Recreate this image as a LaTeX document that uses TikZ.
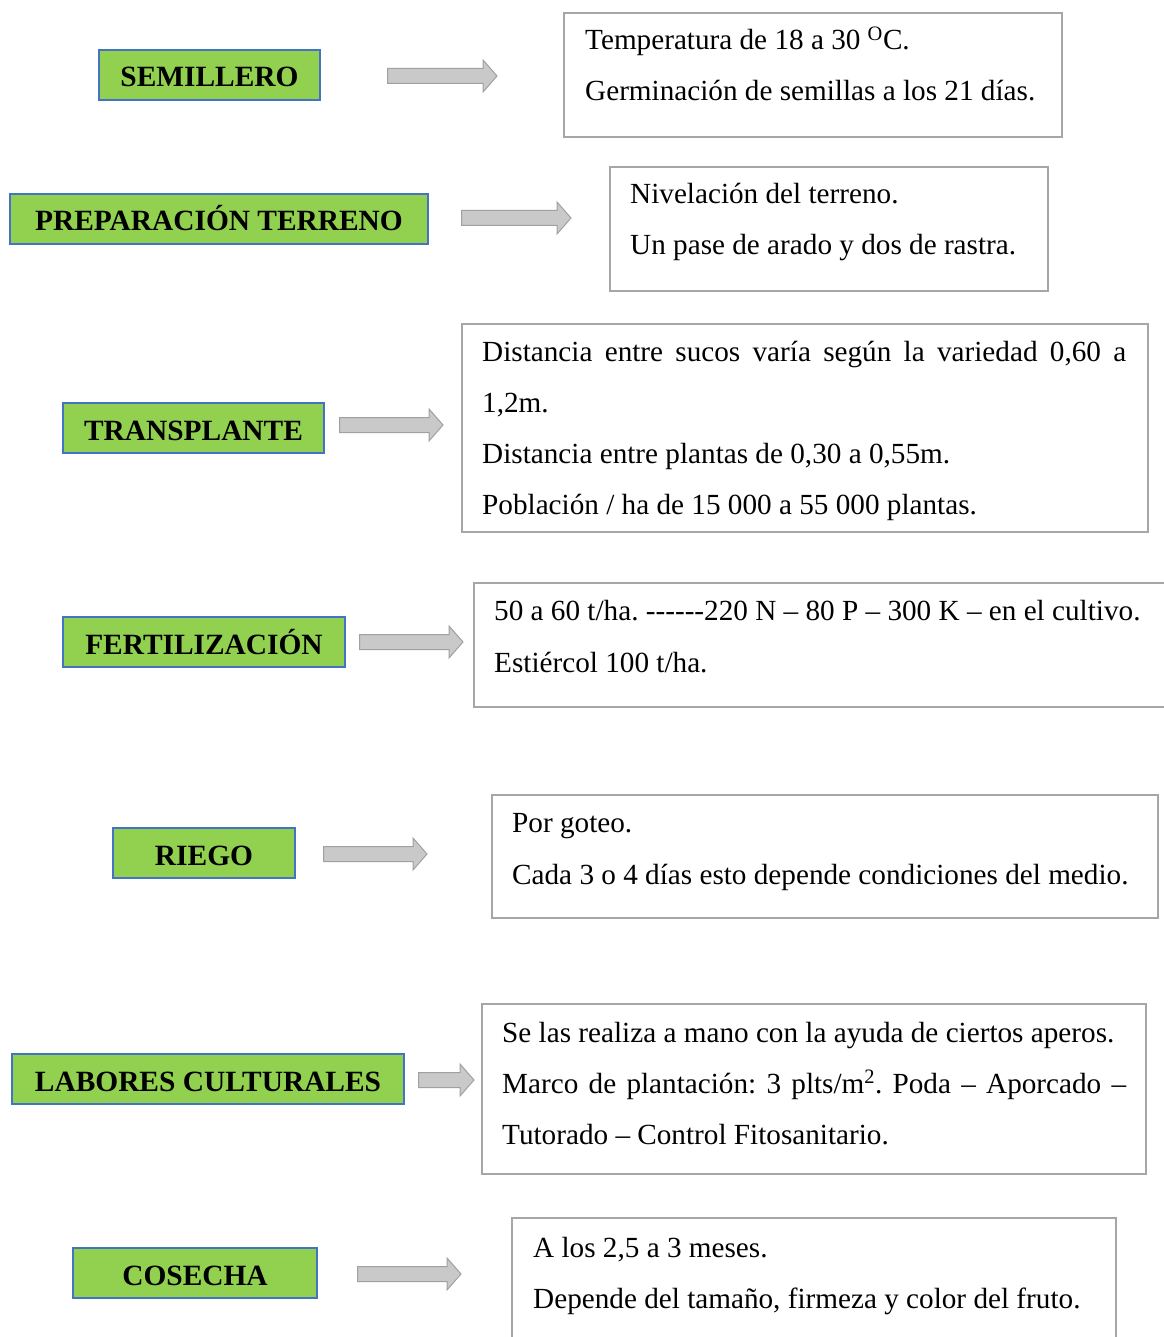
\documentclass[tikz,border=0pt]{standalone}
\usepackage{fontspec}
\setmainfont{Liberation Serif}
\usepackage{xcolor}
\definecolor{colorEtapa}{HTML}{92D050}
\definecolor{colorBorde}{HTML}{4472C4}
\definecolor{colorCaja}{HTML}{A6A6A6}
\definecolor{colorFlecha}{HTML}{C9C9C9}
\definecolor{colorFlechaBorde}{HTML}{A0A0A0}
\usetikzlibrary{calc, positioning}
\tikzset{
  etapa/.style={draw=colorBorde, fill=colorEtapa, line width=1.2pt, inner sep=0pt, minimum height=50pt, text height=24pt, text depth=0pt, font=\bfseries\fontsize{29.4}{34}\selectfont},
  caja/.style={draw=colorCaja, line width=2pt, inner sep=0pt, anchor=north west},
  linea/.style={anchor=base west, inner sep=0pt, font=\frenchspacing\fontsize{29.2}{34}\selectfont},
  flecha/.style={fill=colorFlecha, draw=colorFlechaBorde, line width=1pt}
}
\newcommand{\flecha}[2]{\path[flecha] let \p1=(#1), \p2=(#2) in
  (\x1,{\y1+7.5pt}) -- ({\x2-14pt},{\y1+7.5pt}) -- ({\x2-14pt},{\y1+16pt}) -- (\x2,\y1)
  -- ({\x2-14pt},{\y1-16pt}) -- ({\x2-14pt},{\y1-7.5pt}) -- (\x1,{\y1-7.5pt}) -- cycle;}

\begin{document}
\begin{tikzpicture}[x=1pt, y=-1pt]
\useasboundingbox (0,0) rectangle (1163,1337);
\node[etapa, minimum width=221pt] (e1) at (209.5,75) {SEMILLERO};
\node[etapa, minimum width=418pt] (e2) at (219,219) {PREPARACIÓN TERRENO};
\node[etapa, minimum width=261pt] (e3) at (193.5,428) {TRANSPLANTE};
\node[etapa, minimum width=282pt] (e4) at (204,642) {FERTILIZACIÓN};
\node[etapa, minimum width=182pt] (e5) at (204,853) {RIEGO};
\node[etapa, minimum width=392pt] (e6) at (208,1079) {LABORES CULTURALES};
\node[etapa, minimum width=244pt] (e7) at (195,1273) {COSECHA};

\node[caja, minimum width=498pt, minimum height=124pt] (t1) at (563,12) {};
\node[caja, minimum width=438pt, minimum height=124pt] (t2) at (609,166) {};
\node[caja, minimum width=686pt, minimum height=208pt] (t3) at (461,323) {};
\node[caja, minimum width=720pt, minimum height=124pt] (t4) at (473,582) {};
\node[caja, minimum width=666pt, minimum height=123pt] (t5) at (491,794) {};
\node[caja, minimum width=664pt, minimum height=170pt] (t6) at (481,1003) {};
\node[caja, minimum width=604pt, minimum height=140pt] (t7) at (511,1217) {};

\node[linea] at (585,50) {Temperatura de 18 a 30 \textsuperscript{O}C.};
\node[linea] at (585,101) {Germinación de semillas a los 21 días.};
\node[linea] at (630,204) {Nivelación del terreno.};
\node[linea] at (630,255) {Un pase de arado y dos de rastra.};
\node[linea] at (482,361) {\makebox[644pt][s]{Distancia entre sucos varía según la variedad 0,60 a}};
\node[linea] at (482,412) {1,2m.};
\node[linea] at (482,463) {Distancia entre plantas de 0,30 a 0,55m.};
\node[linea] at (482,514) {Población / ha de 15 000 a 55 000 plantas.};
\node[linea] at (494,620) {50 a 60 t/ha. -{}-{}-{}-{}-{}-220 N – 80 P – 300 K – en el cultivo.};
\node[linea] at (494,672) {Estiércol 100 t/ha.};
\node[linea] at (512,832) {Por goteo.};
\node[linea] at (512,884) {Cada 3 o 4 días esto depende condiciones del medio.};
\node[linea] at (502,1042) {Se las realiza a mano con la ayuda de ciertos aperos.};
\node[linea] at (502,1093) {\makebox[624pt][s]{Marco de plantación: 3 plts/m\textsuperscript{2}. Poda – Aporcado –}};
\node[linea] at (502,1144) {Tutorado – Control Fitosanitario.};
\node[linea] at (533,1257) {A los 2,5 a 3 meses.};
\node[linea] at (533,1308) {Depende del tamaño, firmeza y color del fruto.};

\coordinate (f1i) at ([xshift=67pt, yshift=-1pt]e1.east);
\coordinate (f1f) at ([xshift=-66pt]t1.west |- f1i);
\coordinate (f2i) at ([xshift=33pt, yshift=1pt]e2.east);
\coordinate (f2f) at ([xshift=-38pt]t2.west |- f2i);
\coordinate (f3i) at ([xshift=15pt, yshift=3pt]e3.east);
\coordinate (f3f) at ([xshift=-18pt]t3.west |- f3i);
\coordinate (f4i) at ([xshift=14pt]e4.east);
\coordinate (f4f) at ([xshift=-10pt]t4.west |- f4i);
\coordinate (f5i) at ([xshift=28pt, yshift=-1pt]e5.east);
\coordinate (f5f) at ([xshift=-64pt]t5.west |- f5i);
\coordinate (f6i) at ([xshift=14pt, yshift=-1pt]e6.east);
\coordinate (f6f) at ([xshift=-7pt]t6.west |- f6i);
\coordinate (f7i) at ([xshift=40pt, yshift=-1pt]e7.east);
\coordinate (f7f) at ([xshift=-50pt]t7.west |- f7i);
\foreach \i in {1,...,7}{\flecha{f\i i}{f\i f}}
\end{tikzpicture}
\end{document}
